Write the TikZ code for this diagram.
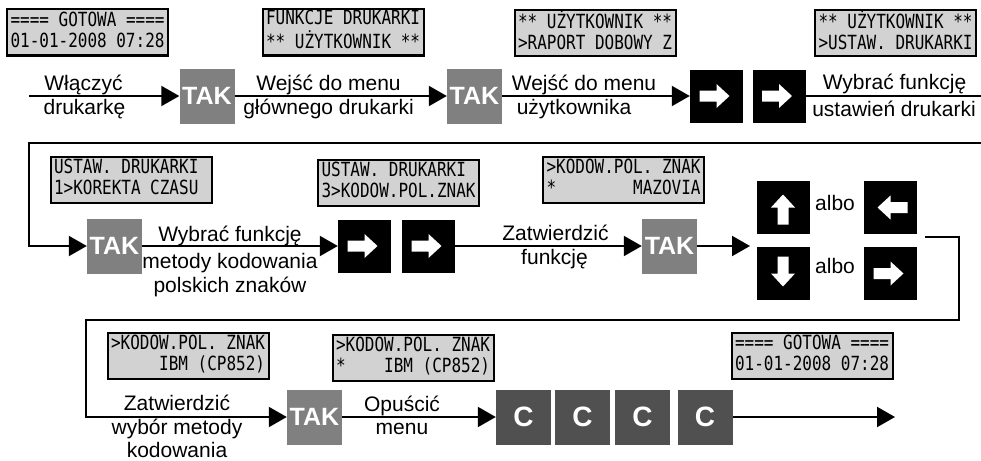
\documentclass[tikz,border=0pt]{standalone}
\usepackage{fontspec}
\setmainfont{Liberation Sans}
\newfontfamily\lcdfont[FakeStretch=0.82]{DejaVu Sans Mono}
\usetikzlibrary{arrows.meta}
\definecolor{lcdgray}{HTML}{D2D2D2}
\definecolor{takgray}{HTML}{808080}
\definecolor{cgray}{HTML}{505050}
\newcommand\lcdlines[2]{\makebox[154pt][l]{\begin{tabular}{@{}l@{}}\relax #1\\\relax #2\end{tabular}}}
\newcommand\wharrow[2]{\fill[white,shift={(#1.center)},rotate=#2] (-17,-5.5) -- (0,-5.5) -- (0,-12) -- (13,0) -- (0,12) -- (0,5.5) -- (-17,5.5) -- cycle;}
\begin{document}
\begin{tikzpicture}[x=1pt,y=-1pt,
  lcd/.style={draw, line width=2pt, fill=lcdgray, minimum width=161pt, minimum height=46pt, inner sep=0pt, font=\lcdfont\fontsize{19.5}{21}\selectfont},
  takbox/.style={fill=takgray, minimum width=55pt, minimum height=55pt, inner sep=0pt, text=white, font=\bfseries\fontsize{25}{25}\selectfont},
  ckey/.style={fill=cgray, minimum width=55pt, minimum height=55pt, inner sep=0pt, text=white, font=\bfseries\fontsize{28}{28}\selectfont},
  blk/.style={fill=black, minimum width=53pt, minimum height=53pt, inner sep=0pt},
  lbl/.style={anchor=base, inner sep=0pt, font=\fontsize{21}{24}\selectfont},
  conn/.style={line width=2pt, -{Triangle[length=18pt,width=20pt]}},
  wire/.style={line width=2pt}]
\useasboundingbox (0,0) rectangle (981,460);

% LCD displays
\node[lcd] (lcd1) at (87.5,32.5) {\lcdlines{====~GOTOWA~====}{01-01-2008~07:28}};
\node[lcd] (lcd2) at (343,32.5) {\lcdlines{FUNKCJE~DRUKARKI}{**~UŻYTKOWNIK~**}};
\node[lcd] (lcd3) at (595,33) {\lcdlines{**~UŻYTKOWNIK~**}{>RAPORT~DOBOWY~Z}};
\node[lcd] (lcd4) at (895.5,33) {\lcdlines{**~UŻYTKOWNIK~**}{>USTAW.~DRUKARKI}};
\node[lcd] (lcd5) at (131,180) {\lcdlines{USTAW.~DRUKARKI}{1>KOREKTA~CZASU}};
\node[lcd] (lcd6) at (398.5,182.5) {\lcdlines{USTAW.~DRUKARKI}{3>KODOW.POL.ZNAK}};
\node[lcd] (lcd7) at (623.5,179.5) {\lcdlines{>KODOW.POL.~ZNAK}{*~~~~~~~~MAZOVIA}};
\node[lcd] (lcd8) at (188,356) {\lcdlines{>KODOW.POL.~ZNAK}{~~~~~IBM~(CP852)}};
\node[lcd] (lcd9) at (413,357.5) {\lcdlines{>KODOW.POL.~ZNAK}{*~~~~IBM~(CP852)}};
\node[lcd] (lcd10) at (812,356) {\lcdlines{====~GOTOWA~====}{01-01-2008~07:28}};

% Row 1
\coordinate (s1) at (29,96);
\node[takbox] (tak1) at (207,96) {TAK};
\node[takbox] (tak2) at (474.5,96) {TAK};
\node[blk] (b1) at (716.5,96) {};
\node[blk] (b2) at (779,96) {};
\coordinate (e1) at (981,96);
\wharrow{b1}{0}
\wharrow{b2}{0}
\draw[conn] (s1) -- (tak1.west);
\draw[conn] (tak1.east) -- (tak2.west);
\draw[conn] (tak2.east) -- (b1.west);
\draw[wire] (b2.east) -- (e1);
\node[lbl] (l1a) at (83.5,90) {Włączyć};
\node[lbl] (l1b) at (84.5,114) {drukarkę};
\node[lbl] (l2a) at (328.5,90) {Wejść do menu};
\node[lbl] (l2b) at (328.5,114) {głównego drukarki};
\node[lbl] (l3a) at (584,90) {Wejść do menu};
\node[lbl] (l3b) at (574,114) {użytkownika};
\node[lbl] (l4a) at (894.5,89) {Wybrać funkcję};
\node[lbl] (l4b) at (894,116) {ustawień drukarki};

% Row 2
\coordinate (e2) at (981,143);
\coordinate (w1) at (29,143);
\node[takbox] (tak3) at (114.5,246) {TAK};
\node[blk] (b3) at (364.5,246) {};
\node[blk] (b4) at (428.5,246) {};
\node[takbox] (tak4) at (669.5,246) {TAK};
\coordinate (a1) at (750,246);
\wharrow{b3}{0}
\wharrow{b4}{0}
\draw[conn] (e2) -- (w1) |- (tak3.west);
\draw[conn] (tak3.east) -- (b3.west);
\draw[conn] (b4.east) -- (tak4.west);
\draw[conn] (tak4.east) -- (a1);
\node[blk] (bu) at (783,207.5) {};
\node[blk] (bl) at (890.5,207.5) {};
\node[blk] (bd) at (783,273.5) {};
\node[blk] (br) at (890.5,273.5) {};
\wharrow{bu}{90}
\wharrow{bl}{180}
\wharrow{bd}{-90}
\wharrow{br}{0}
\node[lbl] (alb1) at (835,210) {albo};
\node[lbl] (alb2) at (835,273) {albo};
\node[lbl] (l5a) at (230,241.5) {Wybrać funkcję};
\node[lbl] (l5b) at (230,268) {metody kodowania};
\node[lbl] (l5c) at (230,292) {polskich znaków};
\node[lbl] (l6a) at (555.5,240) {Zatwierdzić};
\node[lbl] (l6b) at (554.5,264) {funkcję};

% wrap to row 3
\coordinate (r1) at (925,237);
\coordinate (r2) at (959,320);
\coordinate (r3) at (86,320);

% Row 3
\node[takbox] (tak5) at (314.5,417) {TAK};
\node[ckey] (k1) at (523.5,417) {C};
\node[ckey] (k2) at (582.5,417) {C};
\node[ckey] (k3) at (642.5,417) {C};
\node[ckey] (k4) at (705,417) {C};
\coordinate (e3) at (895,417);
\draw[conn] (r1) -| (r2) -- (r3) |- (tak5.west);
\draw[conn] (tak5.east) -- (k1.west);
\draw[conn] (k4.east) -- (e3);
\node[lbl] (l7a) at (177,410) {Zatwierdzić};
\node[lbl] (l7b) at (177,434) {wybór metody};
\node[lbl] (l7c) at (177,457) {kodowania};
\node[lbl] (l8a) at (402,411) {Opuścić};
\node[lbl] (l8b) at (402,434) {menu};
\end{tikzpicture}
\end{document}
